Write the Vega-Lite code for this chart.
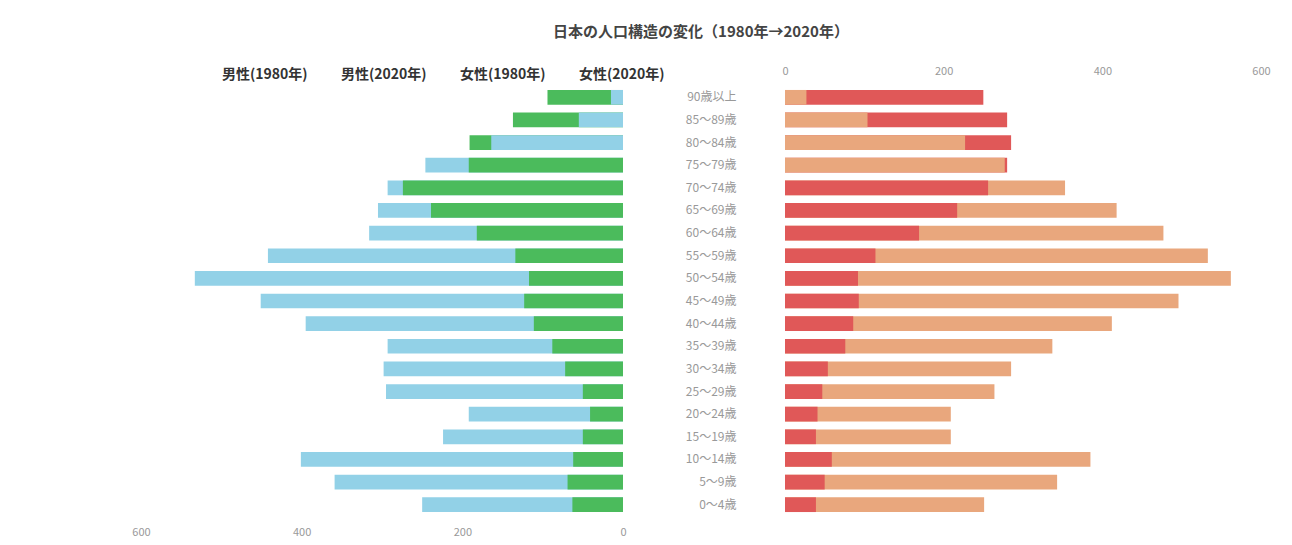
{
  "$schema": "https://vega.github.io/schema/vega-lite/v6.json",
  "padding": {"left": 131, "top": 25, "right": 5, "bottom": 5},
  "background": "white",
  "title": {"text": "日本の人口構造の変化（1980年→2020年）", "anchor": "middle", "fontSize": 15, "fontWeight": "bold", "color": "#444444", "offset": 25, "font": "Noto Sans CJK JP"},
  "config": {
    "font": "Noto Sans CJK JP",
    "view": {"stroke": null},
    "axis": {"grid": false, "domain": false, "ticks": false, "labelColor": "#999999", "labelFontSize": 11, "title": null, "labelFlush": false}
  },
  "bounds": "flush",
  "spacing": 162,
  "datasets": {
    "pop": [
      {"age": "90歳以上", "sex": "男性", "series": "男性(1980年)", "value": 15},
      {"age": "90歳以上", "sex": "男性", "series": "男性(2020年)", "value": 94},
      {"age": "85～89歳", "sex": "男性", "series": "男性(1980年)", "value": 55},
      {"age": "85～89歳", "sex": "男性", "series": "男性(2020年)", "value": 137},
      {"age": "80～84歳", "sex": "男性", "series": "男性(1980年)", "value": 164},
      {"age": "80～84歳", "sex": "男性", "series": "男性(2020年)", "value": 191},
      {"age": "75～79歳", "sex": "男性", "series": "男性(1980年)", "value": 246},
      {"age": "75～79歳", "sex": "男性", "series": "男性(2020年)", "value": 192},
      {"age": "70～74歳", "sex": "男性", "series": "男性(1980年)", "value": 293},
      {"age": "70～74歳", "sex": "男性", "series": "男性(2020年)", "value": 274},
      {"age": "65～69歳", "sex": "男性", "series": "男性(1980年)", "value": 305},
      {"age": "65～69歳", "sex": "男性", "series": "男性(2020年)", "value": 239},
      {"age": "60～64歳", "sex": "男性", "series": "男性(1980年)", "value": 316},
      {"age": "60～64歳", "sex": "男性", "series": "男性(2020年)", "value": 182},
      {"age": "55～59歳", "sex": "男性", "series": "男性(1980年)", "value": 442},
      {"age": "55～59歳", "sex": "男性", "series": "男性(2020年)", "value": 134},
      {"age": "50～54歳", "sex": "男性", "series": "男性(1980年)", "value": 533},
      {"age": "50～54歳", "sex": "男性", "series": "男性(2020年)", "value": 117},
      {"age": "45～49歳", "sex": "男性", "series": "男性(1980年)", "value": 451},
      {"age": "45～49歳", "sex": "男性", "series": "男性(2020年)", "value": 123},
      {"age": "40～44歳", "sex": "男性", "series": "男性(1980年)", "value": 395},
      {"age": "40～44歳", "sex": "男性", "series": "男性(2020年)", "value": 111},
      {"age": "35～39歳", "sex": "男性", "series": "男性(1980年)", "value": 293},
      {"age": "35～39歳", "sex": "男性", "series": "男性(2020年)", "value": 88},
      {"age": "30～34歳", "sex": "男性", "series": "男性(1980年)", "value": 298},
      {"age": "30～34歳", "sex": "男性", "series": "男性(2020年)", "value": 72},
      {"age": "25～29歳", "sex": "男性", "series": "男性(1980年)", "value": 295},
      {"age": "25～29歳", "sex": "男性", "series": "男性(2020年)", "value": 50},
      {"age": "20～24歳", "sex": "男性", "series": "男性(1980年)", "value": 192},
      {"age": "20～24歳", "sex": "男性", "series": "男性(2020年)", "value": 41},
      {"age": "15～19歳", "sex": "男性", "series": "男性(1980年)", "value": 224},
      {"age": "15～19歳", "sex": "男性", "series": "男性(2020年)", "value": 50},
      {"age": "10～14歳", "sex": "男性", "series": "男性(1980年)", "value": 401},
      {"age": "10～14歳", "sex": "男性", "series": "男性(2020年)", "value": 62},
      {"age": "5～9歳", "sex": "男性", "series": "男性(1980年)", "value": 359},
      {"age": "5～9歳", "sex": "男性", "series": "男性(2020年)", "value": 69},
      {"age": "0～4歳", "sex": "男性", "series": "男性(1980年)", "value": 250},
      {"age": "0～4歳", "sex": "男性", "series": "男性(2020年)", "value": 63},
      {"age": "90歳以上", "sex": "女性", "series": "女性(1980年)", "value": 27},
      {"age": "90歳以上", "sex": "女性", "series": "女性(2020年)", "value": 250},
      {"age": "85～89歳", "sex": "女性", "series": "女性(1980年)", "value": 104},
      {"age": "85～89歳", "sex": "女性", "series": "女性(2020年)", "value": 280},
      {"age": "80～84歳", "sex": "女性", "series": "女性(1980年)", "value": 227},
      {"age": "80～84歳", "sex": "女性", "series": "女性(2020年)", "value": 285},
      {"age": "75～79歳", "sex": "女性", "series": "女性(1980年)", "value": 277},
      {"age": "75～79歳", "sex": "女性", "series": "女性(2020年)", "value": 280},
      {"age": "70～74歳", "sex": "女性", "series": "女性(1980年)", "value": 353},
      {"age": "70～74歳", "sex": "女性", "series": "女性(2020年)", "value": 256},
      {"age": "65～69歳", "sex": "女性", "series": "女性(1980年)", "value": 418},
      {"age": "65～69歳", "sex": "女性", "series": "女性(2020年)", "value": 217},
      {"age": "60～64歳", "sex": "女性", "series": "女性(1980年)", "value": 477},
      {"age": "60～64歳", "sex": "女性", "series": "女性(2020年)", "value": 169},
      {"age": "55～59歳", "sex": "女性", "series": "女性(1980年)", "value": 533},
      {"age": "55～59歳", "sex": "女性", "series": "女性(2020年)", "value": 114},
      {"age": "50～54歳", "sex": "女性", "series": "女性(1980年)", "value": 562},
      {"age": "50～54歳", "sex": "女性", "series": "女性(2020年)", "value": 92},
      {"age": "45～49歳", "sex": "女性", "series": "女性(1980年)", "value": 496},
      {"age": "45～49歳", "sex": "女性", "series": "女性(2020年)", "value": 93},
      {"age": "40～44歳", "sex": "女性", "series": "女性(1980年)", "value": 412},
      {"age": "40～44歳", "sex": "女性", "series": "女性(2020年)", "value": 86},
      {"age": "35～39歳", "sex": "女性", "series": "女性(1980年)", "value": 337},
      {"age": "35～39歳", "sex": "女性", "series": "女性(2020年)", "value": 76},
      {"age": "30～34歳", "sex": "女性", "series": "女性(1980年)", "value": 285},
      {"age": "30～34歳", "sex": "女性", "series": "女性(2020年)", "value": 54},
      {"age": "25～29歳", "sex": "女性", "series": "女性(1980年)", "value": 264},
      {"age": "25～29歳", "sex": "女性", "series": "女性(2020年)", "value": 47},
      {"age": "20～24歳", "sex": "女性", "series": "女性(1980年)", "value": 209},
      {"age": "20～24歳", "sex": "女性", "series": "女性(2020年)", "value": 41},
      {"age": "15～19歳", "sex": "女性", "series": "女性(1980年)", "value": 209},
      {"age": "15～19歳", "sex": "女性", "series": "女性(2020年)", "value": 39},
      {"age": "10～14歳", "sex": "女性", "series": "女性(1980年)", "value": 385},
      {"age": "10～14歳", "sex": "女性", "series": "女性(2020年)", "value": 59},
      {"age": "5～9歳", "sex": "女性", "series": "女性(1980年)", "value": 343},
      {"age": "5～9歳", "sex": "女性", "series": "女性(2020年)", "value": 50},
      {"age": "0～4歳", "sex": "女性", "series": "女性(1980年)", "value": 251},
      {"age": "0～4歳", "sex": "女性", "series": "女性(2020年)", "value": 39}
    ]
  },
  "data": {"name": "pop"},
  "hconcat": [
    {
      "width": 482,
      "height": 430,
      "transform": [{"filter": "datum.sex === '男性'"}],
      "mark": {"type": "bar"},
      "encoding": {
        "y": {
          "field": "age", "type": "nominal",
          "sort": ["90歳以上", "85～89歳", "80～84歳", "75～79歳", "70～74歳", "65～69歳", "60～64歳", "55～59歳", "50～54歳", "45～49歳", "40～44歳", "35～39歳", "30～34歳", "25～29歳", "20～24歳", "15～19歳", "10～14歳", "5～9歳", "0～4歳"],
          "scale": {"paddingInner": 0.35, "paddingOuter": 0.175},
          "axis": null
        },
        "x": {
          "field": "value", "type": "quantitative", "stack": null,
          "scale": {"domain": [0, 600], "reverse": true, "nice": false},
          "axis": {"orient": "bottom", "values": [0, 200, 400, 600], "labelPadding": 10}
        },
        "color": {
          "field": "series", "type": "nominal",
          "scale": {"domain": ["男性(1980年)", "男性(2020年)", "女性(1980年)", "女性(2020年)"], "range": ["#92d1e7", "#4bbb5c", "#e9a77d", "#e05858"]},
          "legend": {"orient": "none", "legendX": 67, "legendY": -18, "direction": "horizontal", "columns": 4, "title": null, "symbolOpacity": 0, "symbolSize": 0, "symbolStrokeWidth": 0, "labelOffset": 0, "labelFontSize": 14, "labelFontWeight": "bold", "labelColor": "#333333", "columnPadding": 19}
        },
        "order": {"field": "value", "sort": "descending"}
      }
    },
    {
      "width": 476,
      "height": 430,
      "transform": [{"filter": "datum.sex === '女性'"}],
      "mark": {"type": "bar"},
      "encoding": {
        "y": {
          "field": "age", "type": "nominal",
          "sort": ["90歳以上", "85～89歳", "80～84歳", "75～79歳", "70～74歳", "65～69歳", "60～64歳", "55～59歳", "50～54歳", "45～49歳", "40～44歳", "35～39歳", "30～34歳", "25～29歳", "20～24歳", "15～19歳", "10～14歳", "5～9歳", "0～4歳"],
          "scale": {"paddingInner": 0.35, "paddingOuter": 0.175},
          "axis": {"orient": "left", "labelPadding": 49, "labelFontSize": 12, "labelColor": "#999999"}
        },
        "x": {
          "field": "value", "type": "quantitative", "stack": null,
          "scale": {"domain": [0, 600], "nice": false},
          "axis": {"orient": "top", "values": [0, 200, 400, 600], "labelPadding": 10}
        },
        "color": {
          "field": "series", "type": "nominal",
          "scale": {"domain": ["男性(1980年)", "男性(2020年)", "女性(1980年)", "女性(2020年)"], "range": ["#92d1e7", "#4bbb5c", "#e9a77d", "#e05858"]}
        },
        "order": {"field": "value", "sort": "descending"}
      }
    }
  ],
  "resolve": {"scale": {"color": "shared", "x": "independent", "y": "independent"}}
}
